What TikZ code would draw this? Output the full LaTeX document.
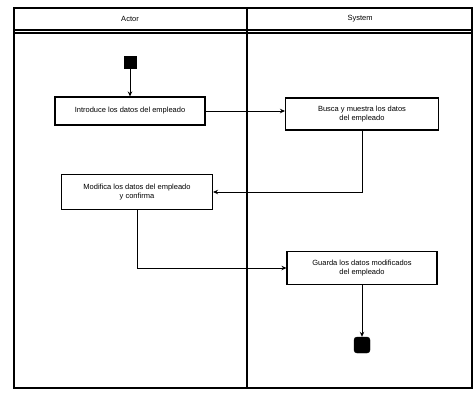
\documentclass[tikz,border=0pt]{standalone}
\usepackage{fontspec}
\setmainfont{Liberation Sans}
\usetikzlibrary{arrows.meta}
\begin{document}
\begin{tikzpicture}[x=1pt,y=-1pt,
  act/.style={draw,line width=1.1pt,fill=white,minimum height=28pt,font=\fontsize{7.5}{8.5}\selectfont,align=center,inner sep=2pt},
  flow/.style={line width=1pt,-{Stealth[length=5pt,width=4.5pt]}},
  lane/.style={line width=1.1pt},
  hdr/.style={font=\fontsize{7.5}{8.5}\selectfont}]
\useasboundingbox (0,0) rectangle (473,392);
% swimlane frame
\draw[lane] (14,8) rectangle (472,388);
\draw[lane] (14,30) -- (472,30);
\draw[lane] (14,33) -- (472,33);
\draw[lane] (247,8) -- (247,388);
\node[hdr] (h1) at (130,19) {Actor};
\node[hdr] (h2) at (360,19) {System};
% nodes
\node[draw,fill=black,minimum size=12pt,inner sep=0pt] (start) at (130,62) {};
\node[act,minimum width=150pt] (a1) at (130,111) {Introduce los datos del empleado};
\node[act,minimum width=153pt,minimum height=32pt] (a2) at (362,114) {Busca y muestra los datos\\del empleado};
\node[act,minimum width=151pt,minimum height=35pt] (a3) at (137,192) {Modifica los datos del empleado\\y confirma};
\node[act,minimum width=150pt,minimum height=33pt] (a4) at (362,268) {Guarda los datos modificados\\del empleado};
\node[draw,fill=black,minimum size=16pt,inner sep=0pt,rounded corners=3pt] (end) at (362,345) {};
% connectors
\coordinate (c0) at (a1.east -| a2.west);
\coordinate (c1) at (a2.south |- a3.east);
\coordinate (c2) at (a3.south |- a4.west);
\draw[flow] (start) -- (a1);
\draw[flow] (a1.east) -- (c0);
\draw[flow] (a2.south) -- (c1) -- (a3.east);
\draw[flow] (a3.south) -- (c2) -- (a4.west);
\draw[flow] (a4.south) -- (end);
\end{tikzpicture}
\end{document}
